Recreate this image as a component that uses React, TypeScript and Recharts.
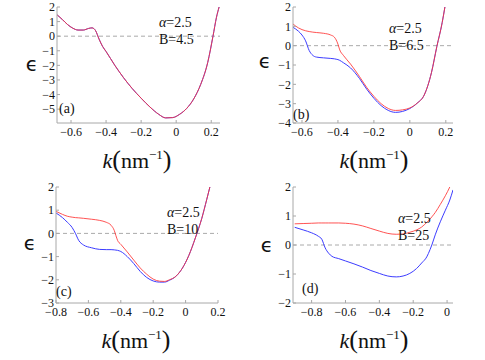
import { LineChart, Line, XAxis, YAxis, ReferenceLine } from "recharts";

// panel (a) B=4.5 — both bands coincide
const K_A = [-0.68, -0.65, -0.62, -0.59, -0.56, -0.53, -0.5, -0.48, -0.46, -0.44, -0.42, -0.4, -0.35, -0.3, -0.25, -0.2, -0.15, -0.1, -0.06, -0.02, 0.02, 0.06, 0.1, 0.14, 0.18, 0.21, 0.23, 0.245];
const RED_A = [1.47, 1.15, 0.8, 0.55, 0.42, 0.42, 0.53, 0.57, 0.38, -0.2, -0.7, -1.05, -2.0, -2.85, -3.6, -4.25, -4.85, -5.35, -5.6, -5.58, -5.35, -4.95, -4.3, -3.3, -1.8, 0, 1.3, 2.0];
const BLUE_A = RED_A;

// panel (b) B=6.5
const K_B = [-0.65, -0.62, -0.6, -0.58, -0.56, -0.54, -0.52, -0.48, -0.44, -0.42, -0.41, -0.4, -0.39, -0.37, -0.33, -0.28, -0.24, -0.2, -0.16, -0.12, -0.08, -0.04, 0, 0.04, 0.08, 0.12, 0.15, 0.18, 0.195];
const RED_B = [1.12, 0.92, 0.83, 0.77, 0.73, 0.7, 0.68, 0.64, 0.55, 0.44, 0.3, 0.08, -0.22, -0.5, -0.95, -1.6, -2.16, -2.62, -3.0, -3.25, -3.35, -3.32, -3.22, -2.98, -2.55, -1.4, -0.05, 1.2, 2.0];
const BLUE_B = [0.95, 0.75, 0.55, 0.25, -0.25, -0.5, -0.59, -0.63, -0.66, -0.68, -0.7, -0.72, -0.76, -0.88, -1.15, -1.7, -2.25, -2.72, -3.1, -3.35, -3.45, -3.4, -3.25, -2.98, -2.55, -1.4, -0.05, 1.2, 2.0];

// panel (c) B=10
const K_C = [-0.8, -0.76, -0.73, -0.7, -0.68, -0.66, -0.63, -0.58, -0.53, -0.49, -0.46, -0.44, -0.43, -0.42, -0.4, -0.36, -0.32, -0.28, -0.24, -0.2, -0.16, -0.13, -0.1, -0.06, -0.02, 0.02, 0.06, 0.1, 0.13, 0.15];
const RED_C = [0.95, 0.82, 0.74, 0.7, 0.68, 0.67, 0.65, 0.61, 0.56, 0.48, 0.35, 0.12, -0.1, -0.3, -0.47, -0.8, -1.15, -1.49, -1.76, -1.97, -2.06, -2.07, -2.0, -1.85, -1.5, -0.95, -0.2, 0.65, 1.45, 2.0];
const BLUE_C = [0.88, 0.68, 0.48, 0.25, 0.0, -0.3, -0.5, -0.62, -0.69, -0.7, -0.7, -0.71, -0.72, -0.73, -0.78, -1.0, -1.3, -1.64, -1.9, -2.05, -2.1, -2.1, -2.02, -1.85, -1.5, -0.95, -0.2, 0.65, 1.45, 2.0];

// panel (d) B=25
const K_D = [-0.9, -0.85, -0.8, -0.76, -0.74, -0.72, -0.7, -0.68, -0.64, -0.6, -0.55, -0.5, -0.45, -0.4, -0.35, -0.3, -0.26, -0.22, -0.18, -0.15, -0.12, -0.1, -0.09, -0.07, -0.04, -0.01, 0.016, 0.035];
const RED_D = [0.73, 0.74, 0.75, 0.76, 0.76, 0.76, 0.76, 0.76, 0.76, 0.75, 0.72, 0.66, 0.57, 0.48, 0.4, 0.37, 0.38, 0.44, 0.52, 0.62, 0.78, 0.9, 0.97, 1.12, 1.4, 1.7, 2.0, 2.25];
const BLUE_D = [0.61, 0.52, 0.42, 0.3, 0.2, -0.1, -0.28, -0.39, -0.47, -0.55, -0.65, -0.76, -0.88, -0.98, -1.07, -1.1, -1.07, -0.98, -0.81, -0.62, -0.41, -0.15, 0.0, 0.35, 0.8, 1.2, 1.55, 1.9];

const X_TICKS_AB = [-0.6, -0.4, -0.2, 0, 0.2];
const X_TICKS_C = [-0.8, -0.6, -0.4, -0.2, 0, 0.2];
const X_TICKS_D = [-0.8, -0.6, -0.4, -0.2, 0];
const Y_TICKS_A = [2, 1, 0, -1, -2, -3, -4, -5];
const Y_TICKS_B = [2, 1, 0, -1, -2, -3, -4];
const Y_TICKS_C = [2, 1, 0, -1, -2, -3];
const Y_TICKS_D = [2, 1, 0, -1, -2];

const zip = (k: number[], red: number[], blue: number[]) => k.map((x, i) => ({ k: x, red: red[i], blue: blue[i] }));

const fmt = (v: number) => (v < 0 ? `\u2212${Math.abs(v)}` : `${v}`);
const FRAME = "#a8a8a8";
const SERIF = "Liberation Serif";
const tickStyle = { fill: "#111", fontSize: 12, fontFamily: SERIF };

type PanelProps = {
  left: number;
  top: number;
  data: { k: number; red: number; blue: number }[];
  xDomain: [number, number];
  xTicks: number[];
  yDomain: [number, number];
  yTicks: number[];
  yWidth: number;
  mRight: number;
};

function Panel({ left, top, data, xDomain, xTicks, yDomain, yTicks, yWidth, mRight }: PanelProps) {
  return (
    <div style={{ position: "absolute", left, top }}>
      <LineChart width={245} height={180} data={data} margin={{ top: 7, right: mRight, left: 0, bottom: 27 }}>
        <XAxis
          type="number"
          dataKey="k"
          domain={xDomain}
          ticks={xTicks}
          interval={0}
          allowDataOverflow
          height={30}
          tickFormatter={fmt}
          tick={tickStyle}
          tickSize={-3}
          tickMargin={7}
          axisLine={{ stroke: FRAME }}
          tickLine={{ stroke: FRAME }}
        />
        <XAxis xAxisId="top" orientation="top" type="number" dataKey="k" domain={xDomain} allowDataOverflow height={0} tick={false} tickLine={false} axisLine={{ stroke: FRAME }} />
        <YAxis
          type="number"
          domain={yDomain}
          ticks={yTicks}
          interval={0}
          allowDataOverflow
          width={yWidth}
          tickFormatter={fmt}
          tick={tickStyle}
          tickSize={-3}
          tickMargin={5}
          axisLine={{ stroke: FRAME }}
          tickLine={{ stroke: FRAME }}
        />
        <YAxis yAxisId="right" orientation="right" type="number" domain={yDomain} allowDataOverflow width={0} tick={false} tickLine={false} axisLine={{ stroke: FRAME }} />
        <ReferenceLine y={0} stroke="#aaa" strokeDasharray="4 3" />
        <Line type="monotone" dataKey="blue" stroke="#3c3cff" strokeWidth={1} dot={false} isAnimationActive={false} />
        <Line type="monotone" dataKey="red" stroke="#ff3535" strokeOpacity={0.85} strokeWidth={1} dot={false} isAnimationActive={false} />
      </LineChart>
    </div>
  );
}

function XLabel({ cx, y }: { cx: number; y: number }) {
  return (
    <text x={cx} y={y} textAnchor="middle" fontFamily={SERIF} fontSize={22} fill="#111">
      <tspan fontStyle="italic">k</tspan>
      <tspan fontSize={26}>(</tspan>
      <tspan>nm</tspan>
      <tspan fontSize={13} dy={-9}>{"\u22121"}</tspan>
      <tspan fontSize={26} dy={9}>)</tspan>
    </text>
  );
}

function Note({ x, y, b }: { x: number; y: number; b: string }) {
  return (
    <text fontFamily={SERIF} fontSize={14} fill="#111">
      <tspan x={x} y={y}>
        <tspan fontStyle="italic">α</tspan>=2.5
      </tspan>
      <tspan x={x} y={y + 17}>B={b}</tspan>
    </text>
  );
}

export default function App() {
  return (
    <div style={{ position: "absolute", left: 0, top: 0, width: 485, height: 360, background: "#fff", fontFamily: SERIF }}>
      <Panel left={0} top={0} data={zip(K_A, RED_A, BLUE_A)} xDomain={[-0.68, 0.25]} xTicks={X_TICKS_AB} yDomain={[-5.95, 2]} yTicks={Y_TICKS_A} yWidth={57} mRight={25} />
      <Panel left={240} top={0} data={zip(K_B, RED_B, BLUE_B)} xDomain={[-0.65, 0.24]} xTicks={X_TICKS_AB} yDomain={[-4, 2]} yTicks={Y_TICKS_B} yWidth={53} mRight={32} />
      <Panel left={0} top={180} data={zip(K_C, RED_C, BLUE_C)} xDomain={[-0.8, 0.2]} xTicks={X_TICKS_C} yDomain={[-3, 2]} yTicks={Y_TICKS_C} yWidth={56} mRight={27} />
      <Panel left={240} top={180} data={zip(K_D, RED_D, BLUE_D)} xDomain={[-0.91, 0.035]} xTicks={X_TICKS_D} yDomain={[-2, 2]} yTicks={Y_TICKS_D} yWidth={53} mRight={32} />
      <svg width={485} height={360} style={{ position: "absolute", left: 0, top: 0, pointerEvents: "none" }}>
        <g fontFamily="DejaVu Sans" fontSize={20} fill="#111" textAnchor="middle">
          <text x={32} y={71}>ϵ</text>
          <text x={265} y={68}>ϵ</text>
          <text x={30} y={250}>ϵ</text>
          <text x={267} y={252}>ϵ</text>
        </g>
        <XLabel cx={137} y={168} />
        <XLabel cx={374} y={168} />
        <XLabel cx={136} y={348} />
        <XLabel cx={374} y={348} />
        <Note x={159} y={27} b="4.5" />
        <Note x={389} y={33} b="6.5" />
        <Note x={167} y={217} b="10" />
        <Note x={398} y={223} b="25" />
        <g fontFamily={SERIF} fontSize={14} fill="#111">
          <text x={59} y={113}>(a)</text>
          <text x={293} y={119}>(b)</text>
          <text x={56} y={296}>(c)</text>
          <text x={302} y={293}>(d)</text>
        </g>
      </svg>
    </div>
  );
}
